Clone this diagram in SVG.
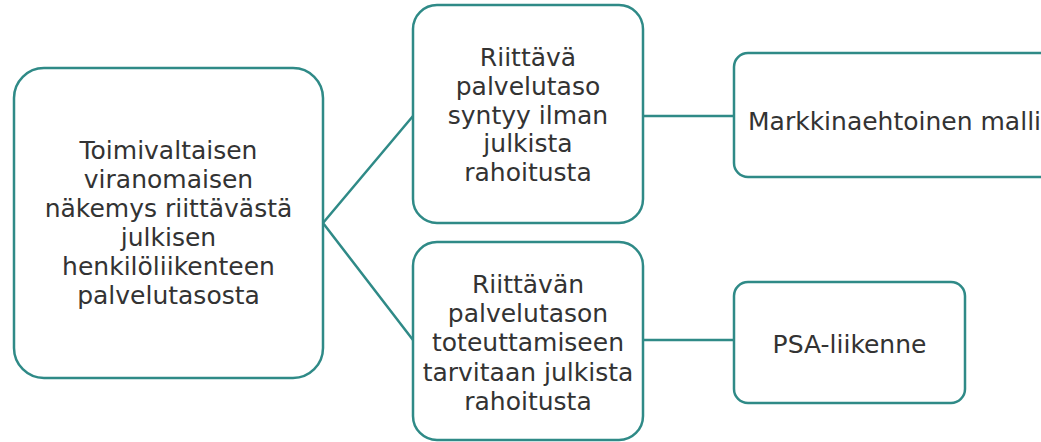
<svg xmlns="http://www.w3.org/2000/svg" width="1041" height="442" viewBox="0 0 1041 442">
<style>
.box{fill:#fff;stroke:#2f8a87;stroke-width:2.5}
.con{fill:none;stroke:#2f8a87;stroke-width:2.5}
text{font-family:"DejaVu Sans",Verdana,sans-serif;font-size:25px;fill:#333}
.c{text-anchor:middle}
</style>
<rect width="1041" height="442" fill="#fff"/>
<g id="connectors">
<polyline class="con" points="413,116 323,223 413,340"/>
<line class="con" x1="643" y1="116" x2="734" y2="116"/>
<line class="con" x1="643" y1="340" x2="734" y2="340"/>
</g>
<g id="n-root">
<rect class="box" x="14" y="68" width="309" height="310" rx="30"/>
<text class="c" x="168.5" y="159">Toimivaltaisen</text>
<text class="c" x="168.5" y="188">viranomaisen</text>
<text class="c" x="168.5" y="217">näkemys riittävästä</text>
<text class="c" x="168.5" y="246">julkisen</text>
<text class="c" x="168.5" y="275">henkilöliikenteen</text>
<text class="c" x="168.5" y="304">palvelutasosta</text>
</g>
<g id="n-riittava">
<rect class="box" x="413" y="5" width="230" height="218" rx="24"/>
<text class="c" x="528" y="66">Riittävä</text>
<text class="c" x="528" y="95">palvelutaso</text>
<text class="c" x="528" y="124">syntyy ilman</text>
<text class="c" x="528" y="152">julkista</text>
<text class="c" x="528" y="181">rahoitusta</text>
</g>
<g id="n-tarvitaan">
<rect class="box" x="413" y="242" width="230" height="198" rx="24"/>
<text class="c" x="528" y="293">Riittävän</text>
<text class="c" x="528" y="322">palvelutason</text>
<text class="c" x="528" y="351">toteuttamiseen</text>
<text class="c" x="528" y="381">tarvitaan julkista</text>
<text class="c" x="528" y="410">rahoitusta</text>
</g>
<g id="n-markkina">
<rect class="box" x="734" y="53" width="340" height="124" rx="14"/>
<text x="748" y="130">Markkinaehtoinen malli</text>
</g>
<g id="n-psa">
<rect class="box" x="734" y="282" width="231" height="121" rx="14"/>
<text class="c" x="849.5" y="353">PSA-liikenne</text>
</g>
</svg>
